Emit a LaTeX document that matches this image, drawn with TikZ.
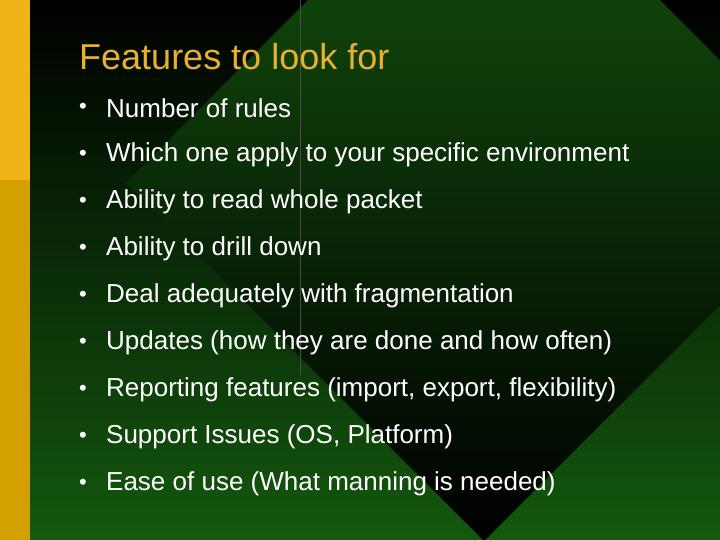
\documentclass[tikz,border=0pt]{standalone}
\usepackage{fontspec}
\setmainfont{Liberation Sans}
\definecolor{grn}{RGB}{20,88,14}
\definecolor{ylw}{RGB}{240,180,24}
\definecolor{gold}{RGB}{212,160,0}
\definecolor{ttl}{RGB}{232,176,48}
\tikzset{item/.style={anchor=west,text=white,font=\fontsize{26}{30}\selectfont,inner sep=0pt},
bul/.style={anchor=center,text=white,font=\fontsize{22}{26}\selectfont,inner sep=0pt}}
\begin{document}
\begin{tikzpicture}[x=1pt,y=-1pt]
\useasboundingbox (0,0) rectangle (720,540);
\clip (0,0) rectangle (720,540);
\shade[top color=black,bottom color=grn] (0,0) rectangle (720,540);
\shade[top color=grn,middle color=grn,bottom color=black] (126,183) -- (484,-177) -- (842,183) -- (484,541) -- cycle;
\draw[black!70,line width=0.6pt] (300,0) -- (300,375);
\fill[ylw] (0,0) rectangle (30,180);
\fill[gold] (0,180) rectangle (30,540);
\node[anchor=west,text=ttl,font=\fontsize{36}{40}\selectfont,inner sep=0pt] (title) at (79,57) {Features to look for};
\foreach \t [count=\i] in {Number of rules,Which one apply to your specific environment,Ability to read whole packet,Ability to drill down,Deal adequately with fragmentation,Updates (how they are done and how often),{Reporting features (import, export, flexibility)},{Support Issues (OS, Platform)},Ease of use (What manning is needed)}{
\node[bul] (b\i) at (83,{108+47*(\i-1)}) {•};
\node[item] (t\i) at (106,{108+47*(\i-1)}) {\t};
}
\end{tikzpicture}
\end{document}
